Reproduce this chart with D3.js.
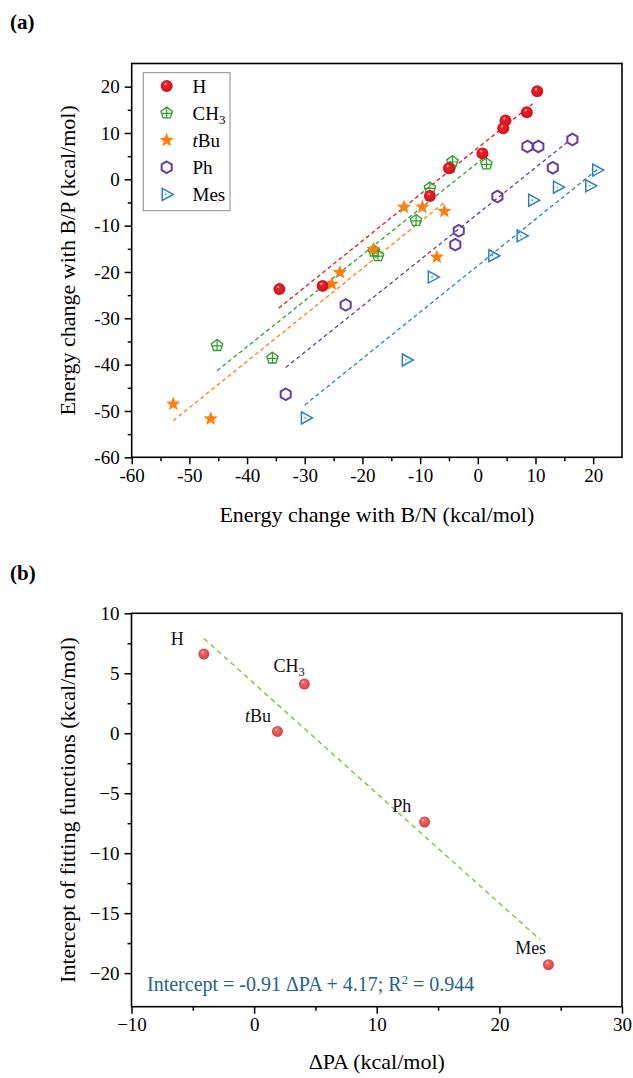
<!DOCTYPE html>
<html><head><meta charset="utf-8">
<script src="https://cdn.jsdelivr.net/npm/d3@7"></script>
<style>body{margin:0;background:#fff}svg{display:block}</style>
</head><body>
<svg id="c" width="633" height="1078"></svg>
<script>
// ---------- Panel (a) data ----------
const seriesNames = ["H", "CH3", "tBu", "Ph", "Mes"];
const hX = [10.3, 8.5, 4.8, 4.4, 0.8, -5.0, -8.3, -34.4, -26.9];
const hY = [19.0, 14.5, 12.7, 11.0, 5.6, 2.4, -3.6, -23.7, -23.0];
const ch3X = [-4.4, -4.8, 1.5, -8.3, -10.7, -18.0, -17.3, -45.2, -35.6];
const ch3Y = [3.8, 2.5, 3.3, -1.9, -8.9, -15.5, -16.5, -35.9, -38.6];
const tbuX = [-12.8, -9.6, -5.8, -18.1, -23.9, -25.3, -7.1, -52.8, -46.3];
const tbuY = [-6.0, -6.0, -6.9, -15.1, -20.1, -22.6, -16.8, -48.5, -51.7];
const phX = [8.6, 10.5, 16.4, 13.0, 3.4, -3.3, -3.9, -22.9, -33.3];
const phY = [7.1, 7.1, 8.6, 2.5, -3.7, -11.1, -14.1, -27.1, -46.4];
const mesX = [20.7, 19.5, 13.9, 9.6, 7.6, 2.7, -7.8, -12.3, -29.8];
const mesY = [2.0, -1.4, -1.7, -4.5, -12.2, -16.5, -21.1, -39.0, -51.5];
// fitted line end points [x0, y0, x1, y1]
const fitH = [-34.5, -27.8, 9.6, 16.4];
const fitCH3 = [-45.2, -41.3, 1.2, 4.8];
const fitTBu = [-52.8, -52.1, -5.8, -5.0];
const fitPh = [-33.3, -40.6, 15.8, 8.3];
const fitMes = [-30.0, -48.7, 20.6, 2.0];
const aXTicks = [-60, -50, -40, -30, -20, -10, 0, 10, 20];
const aYTicks = [-60, -50, -40, -30, -20, -10, 0, 10, 20];

// ---------- Panel (b) data ----------
const bLabels = ["H", "CH3", "tBu", "Ph", "Mes"];
const bPA = [-4.1, 4.1, 1.9, 13.9, 24.0];
const bIntercept = [6.6, 4.1, 0.15, -7.4, -19.3];
const bFit = [-4.1, 7.9, 23.3, -17.2];
const bXTicks = [-10, 0, 10, 20, 30];
const bYTicks = [-20, -15, -10, -5, 0, 5, 10];

const colors = ["#e3191c", "#2ca02c", "#ff7f0e", "#6a3d9a", "#2a7fc0"];
const FONT = "'Liberation Serif','Times New Roman',serif";

const svg = d3.select("#c");
const defs = svg.append("defs");
function sphereGrad(id, base, dark) {
  const g = defs.append("radialGradient").attr("id", id)
    .attr("cx", "50%").attr("cy", "50%").attr("r", "55%")
    .attr("fx", "38%").attr("fy", "30%");
  g.append("stop").attr("offset", "0%").attr("stop-color", "#ffffff");
  g.append("stop").attr("offset", "22%").attr("stop-color", base);
  g.append("stop").attr("offset", "100%").attr("stop-color", dark);
}
sphereGrad("gRed", "#f0202a", "#c8101a");
sphereGrad("gPink", "#f26a6a", "#d03c3c");

// ---------- marker drawers ----------
function poly(n, r, rot) {
  const pts = [];
  for (let i = 0; i < n; i++) {
    const a = rot + i * 2 * Math.PI / n;
    pts.push([r * Math.cos(a), r * Math.sin(a)]);
  }
  return "M" + pts.map(p => p[0].toFixed(2) + "," + p[1].toFixed(2)).join("L") + "Z";
}
function star(ro, ri) {
  const pts = [];
  for (let i = 0; i < 10; i++) {
    const r = i % 2 ? ri : ro;
    const a = -Math.PI / 2 + i * Math.PI / 5;
    pts.push([r * Math.cos(a), r * Math.sin(a)]);
  }
  return "M" + pts.map(p => p[0].toFixed(2) + "," + p[1].toFixed(2)).join("L") + "Z";
}
function drawMarker(g, type, x, y) {
  const m = g.append("g").attr("transform", `translate(${x},${y})`);
  if (type === 0) {
    m.append("circle").attr("r", 6).attr("fill", "url(#gRed)");
  } else if (type === 1) {
    m.append("path").attr("d", poly(5, 6, -Math.PI / 2)).attr("fill", "none")
      .attr("stroke", colors[1]).attr("stroke-width", 1.3);
    m.append("path").attr("d", "M-5.6,0.3H5.6M0,-6V4.9").attr("stroke", colors[1]).attr("stroke-width", 1.2);
  } else if (type === 2) {
    m.append("path").attr("d", star(7.5, 3.2)).attr("fill", colors[2]);
  } else if (type === 3) {
    m.append("path").attr("d", poly(6, 5.8, -Math.PI / 2)).attr("fill", "none")
      .attr("stroke", colors[3]).attr("stroke-width", 2);
  } else {
    m.append("path").attr("d", "M-4.5,-6L6.5,0L-4.5,6Z").attr("fill", "none")
      .attr("stroke", colors[4]).attr("stroke-width", 1.5);
    m.append("circle").attr("cx", -0.8).attr("r", 0.8).attr("fill", colors[4]);
  }
}

function axes(g, x, y, xTicks, yTicks, xMinor, yMinor, fmt) {
  const [x0, x1] = x.range(), [y0, y1] = y.range();
  const ax = g.append("g").attr("transform", `translate(0,${y0})`)
    .call(d3.axisBottom(x).tickValues(xTicks).tickSize(7).tickPadding(4).tickFormat(fmt));
  const ax2 = g.append("g").attr("transform", `translate(0,${y0})`)
    .call(d3.axisBottom(x).tickValues(xMinor).tickSize(4).tickFormat(""));
  const ay = g.append("g").attr("transform", `translate(${x0},0)`)
    .call(d3.axisLeft(y).tickValues(yTicks).tickSize(7).tickPadding(5).tickFormat(fmt));
  const ay2 = g.append("g").attr("transform", `translate(${x0},0)`)
    .call(d3.axisLeft(y).tickValues(yMinor).tickSize(4).tickFormat(""));
  [ax, ax2, ay, ay2].forEach(a => {
    a.select(".domain").remove();
    a.selectAll("line").attr("stroke", "#000").attr("stroke-width", 1.5);
    a.selectAll("text").attr("font-family", FONT).attr("font-size", 19).attr("fill", "#000");
  });
  g.append("rect").attr("x", x0).attr("y", y1).attr("width", x1 - x0).attr("height", y0 - y1)
    .attr("fill", "none").attr("stroke", "#000").attr("stroke-width", 1.6);
}

// ================= Panel (a) =================
const xa = d3.scaleLinear().domain([-60, 25]).range([131.7, 622]);
const ya = d3.scaleLinear().domain([-60, 25]).range([457.3, 63.5]);
const ga = svg.append("g");
axes(ga, xa, ya, aXTicks, aYTicks, [-55, -45, -35, -25, -15, -5, 5, 15], [-55, -45, -35, -25, -15, -5, 5, 15],
  d => String(d));

const fits = [fitH, fitCH3, fitTBu, fitPh, fitMes];
fits.forEach((f, i) => {
  ga.append("line").attr("x1", xa(f[0])).attr("y1", ya(f[1])).attr("x2", xa(f[2])).attr("y2", ya(f[3]))
    .attr("stroke", colors[i]).attr("stroke-width", 1.3).attr("stroke-dasharray", "4,3");
});
const xs = [hX, ch3X, tbuX, phX, mesX], ys = [hY, ch3Y, tbuY, phY, mesY];
[4, 3, 1, 2, 0].forEach(i => {
  xs[i].forEach((v, j) => drawMarker(ga, i, xa(v), ya(ys[i][j])));
});

// legend
const lg = ga.append("g");
lg.append("rect").attr("x", 143.3).attr("y", 72.7).attr("width", 86.7).attr("height", 138)
  .attr("fill", "#fff").attr("stroke", "#8a8a8a").attr("stroke-width", 1);
seriesNames.forEach((n, i) => {
  const yy = 86 + i * 27.1;
  drawMarker(lg, i, 166.7, yy);
  const t = lg.append("text").attr("x", 192.5).attr("y", yy + 6.5).attr("font-family", FONT)
    .attr("font-size", 19).attr("fill", "#000");
  if (n === "CH3") { t.append("tspan").text("CH"); t.append("tspan").attr("font-size", 13).attr("dy", 4).text("3"); }
  else if (n === "tBu") { t.append("tspan").attr("font-style", "italic").text("t"); t.append("tspan").text("Bu"); }
  else t.text(n);
});

svg.append("text").attr("x", 376.8).attr("y", 522).attr("text-anchor", "middle")
  .attr("font-family", FONT).attr("font-size", 22).text("Energy change with B/N (kcal/mol)");
svg.append("text").attr("transform", "translate(75,260.4) rotate(-90)").attr("text-anchor", "middle")
  .attr("font-family", FONT).attr("font-size", 22).text("Energy change with B/P (kcal/mol)");
svg.append("text").attr("x", 10).attr("y", 29).attr("font-family", FONT).attr("font-weight", "bold")
  .attr("font-size", 21).text("(a)");

// ================= Panel (b) =================
const xb = d3.scaleLinear().domain([-10, 30]).range([131.5, 622]);
const yb = d3.scaleLinear().domain([-22.8, 10]).range([1006.7, 613.3]);
const gb = svg.append("g");
axes(gb, xb, yb, bXTicks, bYTicks, [-5, 5, 15, 25], [-17.5, -12.5, -7.5, -2.5, 2.5, 7.5],
  d => (d < 0 ? "\u2212" + Math.abs(d) : String(d)));

gb.append("line").attr("x1", xb(bFit[0])).attr("y1", yb(bFit[1])).attr("x2", xb(bFit[2])).attr("y2", yb(bFit[3]))
  .attr("stroke", "#7cc43a").attr("stroke-width", 1.4).attr("stroke-dasharray", "5,4");
bPA.forEach((v, i) => {
  gb.append("circle").attr("cx", xb(v)).attr("cy", yb(bIntercept[i])).attr("r", 5.5).attr("fill", "url(#gPink)");
});
const labelOffsets = [[-33, -9.5], [-31, -12], [-32.4, -9.8], [-32.3, -10], [-33.3, -10.5]];
bLabels.forEach((n, i) => {
  const t = gb.append("text").attr("x", xb(bPA[i]) + labelOffsets[i][0]).attr("y", yb(bIntercept[i]) + labelOffsets[i][1])
    .attr("font-family", FONT).attr("font-size", 18).attr("fill", "#111");
  if (n === "CH3") { t.append("tspan").text("CH"); t.append("tspan").attr("font-size", 12.5).attr("dy", 4).text("3"); }
  else if (n === "tBu") { t.append("tspan").attr("font-style", "italic").text("t"); t.append("tspan").text("Bu"); }
  else t.text(n);
});
const ann = gb.append("text").attr("x", 147).attr("y", 991).attr("font-family", FONT)
  .attr("font-size", 20).attr("fill", "#22628c");
ann.append("tspan").text("Intercept = -0.91 \u0394PA + 4.17; R");
ann.append("tspan").attr("font-size", 12.5).attr("dy", -7).text("2");
ann.append("tspan").attr("dy", 7).text(" = 0.944");

svg.append("text").attr("x", 376.8).attr("y", 1069).attr("text-anchor", "middle")
  .attr("font-family", FONT).attr("font-size", 22).text("\u0394PA (kcal/mol)");
svg.append("text").attr("transform", "translate(75,810) rotate(-90)").attr("text-anchor", "middle")
  .attr("font-family", FONT).attr("font-size", 22).text("Intercept of fitting functions (kcal/mol)");
svg.append("text").attr("x", 10).attr("y", 580).attr("font-family", FONT).attr("font-weight", "bold")
  .attr("font-size", 21).text("(b)");
</script>
</body></html>
